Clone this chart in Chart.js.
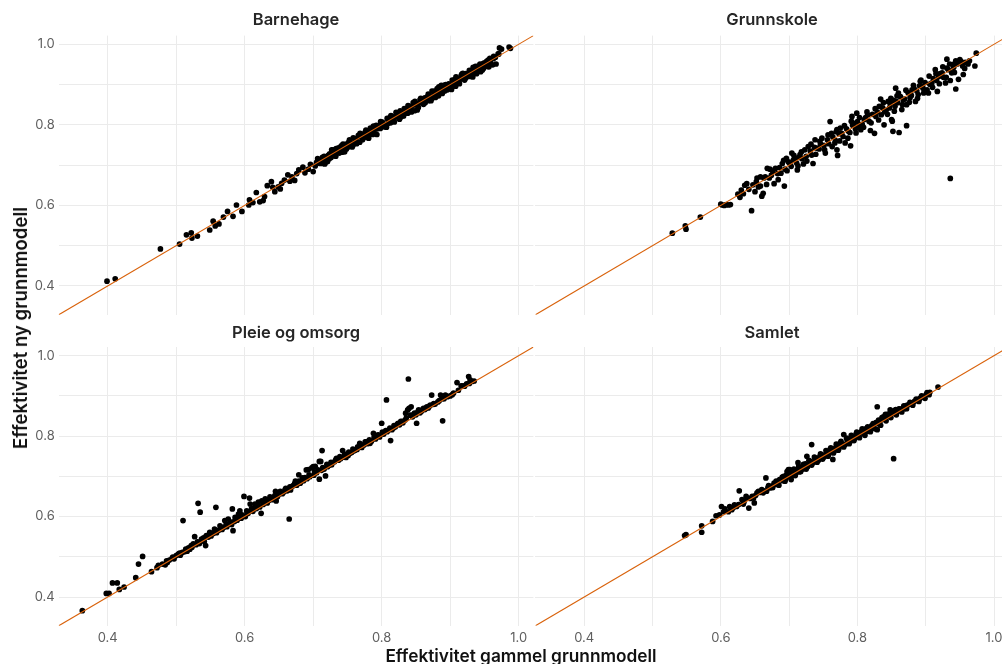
<!DOCTYPE html>
<html lang="no">
<head>
<meta charset="utf-8">
<title>Effektivitet – ny og gammel grunnmodell</title>
<script src="https://cdn.jsdelivr.net/npm/chart.js@4.4.1/dist/chart.umd.min.js"></script>
<style>
  html, body { margin: 0; padding: 0; background: #ffffff; overflow: hidden; }
  body { width: 1002px; height: 664px; position: relative; }
  canvas { position: absolute; }
  .axis-title { position: absolute; font-family: "Inter", "Noto Sans", sans-serif; font-weight: 600; color: #111; white-space: nowrap; }
  #xTitle { left: 521px; top: 655px; font-size: 17.3px; transform: translate(-50%, -50%); }
  #yTitle { left: 20px; top: 328px; font-size: 18.6px; transform: translate(-50%, -50%) rotate(-90deg); }
</style>
</head>
<body>
<canvas id="pBarnehage" width="540" height="330" style="left:0px;top:0px"></canvas>
<canvas id="pGrunnskole" width="500" height="330" style="left:520px;top:0px"></canvas>
<canvas id="pPleie" width="540" height="348" style="left:0px;top:316px"></canvas>
<canvas id="pSamlet" width="500" height="348" style="left:520px;top:316px"></canvas>
<div class="axis-title" id="xTitle">Effektivitet gammel grunnmodell</div>
<div class="axis-title" id="yTitle">Effektivitet ny grunnmodell</div>
<script>
// Axis limits (shared by all four panels) and break positions
const axisLimits = [0.3285, 1.0215];
const gridBreaks = [0.4, 0.5, 0.6, 0.7, 0.8, 0.9, 1.0];
const labelBreaks = [0.4, 0.6, 0.8, 1.0];
const panelTitles = ["Barnehage", "Grunnskole", "Pleie og omsorg", "Samlet"];

// Each point: [effektivitet gammel grunnmodell, effektivitet ny grunnmodell]
const barnehage = [
  [0.399,0.412],[0.411,0.418],[0.477,0.492],[0.505,0.504],[0.515,0.527],[0.522,0.532],[0.523,0.519],[0.531,0.524],
  [0.549,0.539],[0.554,0.561],[0.557,0.549],[0.5625,0.554],[0.569,0.571],[0.575,0.585],[0.583,0.573],[0.588,0.601],
  [0.596,0.585],[0.607,0.614],[0.606,0.601],[0.612,0.607],[0.617,0.632],[0.622,0.609],[0.627,0.612],[0.629,0.622],
  [0.633,0.649],[0.639,0.659],[0.641,0.645],[0.644,0.634],[0.649,0.646],[0.652,0.641],[0.654,0.655],[0.658,0.663],
  [0.663,0.676],[0.666,0.660],[0.669,0.671],[0.673,0.662],[0.676,0.679],[0.679,0.688],[0.685,0.695],[0.688,0.681],
  [0.693,0.690],[0.696,0.702],[0.700,0.684],[0.703,0.698],[0.705,0.707],[0.712,0.715],
  [0.708,0.711],[0.710,0.704],[0.714,0.704],[0.716,0.722],[0.719,0.717],[0.721,0.709],[0.724,0.728],[0.726,0.719],
  [0.729,0.738],[0.731,0.728],[0.733,0.722],[0.736,0.738],[0.738,0.730],[0.741,0.748],[0.743,0.741],[0.746,0.733],
  [0.748,0.752],[0.751,0.745],[0.753,0.763],[0.756,0.755],[0.758,0.749],[0.761,0.766],[0.763,0.759],[0.766,0.774],
  [0.768,0.757],[0.771,0.772],[0.773,0.767],[0.776,0.782],[0.778,0.776],[0.781,0.767],[0.783,0.787],[0.786,0.781],
  [0.788,0.797],[0.791,0.790],[0.793,0.776],[0.796,0.799],[0.798,0.791],[0.801,0.807],[0.803,0.800],[0.806,0.796],
  [0.808,0.816],[0.811,0.810],[0.813,0.805],[0.816,0.821],[0.818,0.814],[0.821,0.831],[0.823,0.821],[0.826,0.814],
  [0.828,0.831],[0.831,0.825],[0.833,0.840],[0.836,0.835],[0.838,0.829],[0.841,0.846],[0.843,0.839],[0.846,0.855],
  [0.848,0.835],[0.851,0.853],[0.853,0.847],[0.856,0.862],[0.858,0.856],[0.861,0.851],[0.863,0.867],[0.866,0.861],
  [0.868,0.876],[0.871,0.870],[0.873,0.865],[0.876,0.881],[0.878,0.875],[0.881,0.890],[0.883,0.872],[0.886,0.888],
  [0.888,0.882],[0.891,0.898],[0.893,0.891],[0.896,0.887],[0.898,0.902],[0.901,0.896],[0.903,0.911],[0.906,0.905],
  [0.908,0.896],[0.911,0.914],[0.913,0.907],[0.916,0.922],[0.918,0.915],[0.921,0.911],[0.923,0.927],[0.926,0.922],
  [0.928,0.935],[0.931,0.930],[0.933,0.919],[0.936,0.939],[0.938,0.931],[0.941,0.946],[0.944,0.942],[0.947,0.936],
  [0.950,0.954],[0.953,0.948],[0.956,0.961],[0.959,0.951],[0.962,0.949],[0.966,0.968],[0.970,0.976],[0.972,0.991],
  [0.975,0.988],[0.971,0.976],[0.986,0.993],[0.988,0.990],
  [0.712,0.712],[0.717,0.703],[0.722,0.724],[0.727,0.738],[0.732,0.727],[0.737,0.743],[0.742,0.732],[0.747,0.748],
  [0.752,0.757],[0.757,0.745],[0.762,0.760],[0.767,0.771],[0.772,0.763],[0.777,0.787],[0.782,0.779],[0.787,0.776],
  [0.792,0.799],[0.797,0.793],[0.802,0.804],[0.807,0.794],[0.812,0.818],[0.817,0.810],[0.822,0.823],[0.827,0.835],
  [0.832,0.822],[0.837,0.841],[0.842,0.836],[0.847,0.849],[0.852,0.837],[0.857,0.866],[0.862,0.858],[0.867,0.870],
  [0.872,0.860],[0.877,0.884],[0.882,0.880],[0.887,0.898],[0.892,0.884],[0.897,0.900],[0.902,0.888],[0.907,0.913],
  [0.912,0.908],[0.917,0.926],[0.922,0.915],[0.927,0.928],[0.932,0.921],[0.937,0.945],[0.942,0.937],[0.948,0.952],
  [0.954,0.945],[0.958,0.965],[0.963,0.964],[0.967,0.951],
  [0.7065,0.716],[0.7135,0.719],[0.7185,0.708],[0.7235,0.716],[0.7285,0.723],[0.7335,0.741],[0.7385,0.736],[0.7435,0.752],
  [0.7485,0.740],[0.7535,0.750],[0.7585,0.768],[0.7635,0.753],[0.7685,0.779],[0.7735,0.777],[0.7785,0.769],[0.7835,0.792],
  [0.7885,0.782],[0.7935,0.790],[0.7985,0.808],[0.8035,0.795],[0.8085,0.803],[0.8135,0.823],[0.8185,0.807],[0.8235,0.829],
  [0.8285,0.820],[0.8335,0.829],[0.8385,0.848],[0.8435,0.832],[0.8485,0.858],[0.8535,0.843],[0.8585,0.864],[0.8635,0.855],
  [0.8685,0.860],[0.8735,0.884],[0.8785,0.868],[0.8835,0.894],[0.8885,0.878],[0.8935,0.900],[0.8985,0.893],[0.9035,0.897],
  [0.9085,0.919],[0.9135,0.902],[0.9185,0.928],[0.9235,0.918],[0.9285,0.920],[0.9335,0.943],[0.9385,0.927],[0.9435,0.951],
  [0.9485,0.940],[0.9535,0.958],[0.9585,0.957],[0.9635,0.970],[0.9565,0.944],[0.9445,0.932]
];

const grunnskole = [
  [0.529,0.531],[0.548,0.549],[0.549,0.541],[0.570,0.571],[0.600,0.603],[0.602,0.601],[0.605,0.600],[0.608,0.602],
  [0.611,0.601],[0.614,0.602],[0.645,0.587],[0.630,0.638],[0.635,0.650],[0.633,0.629],[0.638,0.654],[0.650,0.634],
  [0.658,0.648],[0.660,0.623],[0.662,0.630],[0.665,0.671],[0.658,0.671],[0.668,0.692],[0.674,0.675],[0.678,0.654],
  [0.680,0.692],[0.688,0.680],[0.693,0.648],[0.690,0.704],[0.696,0.717],[0.704,0.730],[0.701,0.704],[0.708,0.717],
  [0.712,0.688],[0.716,0.726],[0.721,0.703],[0.723,0.738],[0.728,0.746],[0.735,0.704],[0.738,0.763],[0.741,0.742],
  [0.748,0.767],[0.753,0.730],[0.756,0.763],[0.760,0.808],[0.762,0.779],[0.767,0.755],[0.770,0.738],[0.771,0.724],
  [0.770,0.788],[0.775,0.792],[0.777,0.779],[0.782,0.755],[0.787,0.784],[0.790,0.748],[0.792,0.821],[0.795,0.804],
  [0.799,0.829],[0.802,0.796],[0.805,0.788],[0.810,0.813],[0.815,0.825],[0.819,0.786],[0.825,0.779],[0.827,0.821],
  [0.832,0.846],[0.834,0.864],[0.835,0.825],[0.839,0.800],[0.840,0.833],[0.845,0.858],[0.847,0.842],[0.850,0.813],
  [0.851,0.809],[0.852,0.784],[0.855,0.846],[0.857,0.858],[0.856,0.891],[0.860,0.879],[0.861,0.781],[0.865,0.838],
  [0.867,0.862],[0.872,0.798],[0.872,0.850],[0.877,0.867],[0.880,0.887],[0.885,0.858],[0.889,0.875],[0.892,0.908],
  [0.894,0.896],[0.897,0.879],[0.902,0.887],[0.904,0.879],[0.909,0.904],[0.914,0.937],[0.917,0.883],[0.919,0.920],
  [0.924,0.929],[0.929,0.904],[0.931,0.963],[0.931,0.941],[0.936,0.910],[0.936,0.667],[0.938,0.929],[0.940,0.950],
  [0.944,0.889],[0.944,0.959],[0.948,0.913],[0.952,0.957],[0.955,0.925],[0.954,0.946],[0.964,0.959],[0.972,0.946],
  [0.974,0.978],
  [0.625,0.628],[0.628,0.620],[0.641,0.640],[0.647,0.651],[0.652,0.659],[0.655,0.646],[0.663,0.668],[0.671,0.668],
  [0.676,0.685],[0.683,0.679],[0.686,0.694],[0.694,0.690],[0.699,0.708],[0.703,0.697],[0.706,0.712],[0.711,0.705],
  [0.714,0.719],[0.719,0.716],[0.725,0.722],[0.731,0.735],[0.733,0.725],[0.737,0.744],[0.744,0.740],[0.746,0.752],
  [0.751,0.749],[0.758,0.753],[0.764,0.770],[0.768,0.761],[0.773,0.778],[0.779,0.771],[0.784,0.790],[0.789,0.781],
  [0.793,0.799],[0.797,0.790],[0.800,0.808],[0.807,0.801],[0.812,0.818],[0.817,0.809],[0.822,0.826],[0.829,0.832],
  [0.837,0.842],[0.842,0.836],[0.848,0.852],[0.853,0.861],[0.859,0.855],[0.863,0.870],[0.869,0.864],[0.874,0.880],
  [0.879,0.873],[0.883,0.890],[0.887,0.884],[0.891,0.897],[0.896,0.891],[0.899,0.905],[0.906,0.901],[0.911,0.915],
  [0.916,0.910],[0.921,0.927],[0.926,0.918],[0.933,0.937],[0.941,0.943],[0.946,0.951],[0.958,0.955],[0.962,0.951],
  [0.653,0.668],[0.667,0.652],[0.672,0.690],[0.684,0.664],[0.692,0.712],[0.697,0.686],[0.707,0.724],[0.713,0.698],
  [0.718,0.733],[0.726,0.710],[0.732,0.752],[0.739,0.727],[0.745,0.759],[0.752,0.738],[0.757,0.775],[0.763,0.746],
  [0.769,0.783],[0.774,0.760],[0.781,0.798],[0.786,0.767],[0.791,0.809],[0.798,0.780],[0.803,0.818],[0.809,0.794],
  [0.814,0.832],[0.820,0.805],[0.826,0.840],[0.831,0.812],[0.838,0.855],[0.844,0.826],[0.849,0.866],[0.854,0.834],
  [0.858,0.872],[0.866,0.850],[0.871,0.886],[0.876,0.856],[0.882,0.898],[0.888,0.866],[0.893,0.911],[0.899,0.885],
  [0.905,0.921],[0.910,0.893],[0.915,0.927],[0.920,0.902],[0.925,0.944],[0.930,0.918],[0.935,0.951],[0.942,0.930],
  [0.950,0.962],[0.957,0.940]
];

const pleieOgOmsorg = [
  [0.363,0.366],[0.398,0.409],[0.402,0.409],[0.407,0.435],[0.414,0.435],[0.417,0.419],[0.424,0.425],[0.441,0.448],
  [0.445,0.482],[0.451,0.501],[0.464,0.463],[0.474,0.479],[0.472,0.473],[0.487,0.486],[0.494,0.496],[0.503,0.507],
  [0.513,0.513],[0.510,0.590],[0.520,0.519],[0.527,0.550],[0.525,0.532],[0.532,0.536],[0.537,0.544],[0.532,0.633],
  [0.535,0.611],[0.543,0.528],[0.544,0.553],[0.549,0.561],[0.556,0.569],[0.558,0.623],[0.564,0.577],[0.571,0.590],
  [0.576,0.594],[0.582,0.619],[0.583,0.565],[0.586,0.598],[0.591,0.606],[0.593,0.614],[0.599,0.650],[0.598,0.602],
  [0.603,0.614],[0.607,0.646],[0.608,0.631],[0.610,0.619],[0.615,0.631],[0.620,0.636],[0.624,0.608],[0.625,0.639],
  [0.630,0.644],[0.637,0.649],[0.645,0.663],[0.646,0.639],[0.652,0.663],[0.659,0.667],[0.665,0.594],[0.669,0.675],
  [0.674,0.688],[0.679,0.704],[0.684,0.696],[0.693,0.717],[0.698,0.721],[0.703,0.725],[0.711,0.737],[0.681,0.683],
  [0.690,0.716],[0.700,0.724],[0.709,0.737],[0.709,0.693],[0.713,0.764],[0.718,0.701],[0.724,0.728],[0.734,0.745],
  [0.743,0.764],[0.748,0.747],[0.753,0.757],[0.761,0.765],[0.768,0.782],[0.776,0.786],[0.783,0.782],[0.788,0.807],
  [0.795,0.803],[0.800,0.832],[0.807,0.890],[0.810,0.815],[0.813,0.789],[0.817,0.820],[0.824,0.832],[0.829,0.836],
  [0.834,0.840],[0.835,0.857],[0.839,0.942],[0.840,0.869],[0.838,0.865],[0.843,0.873],[0.848,0.857],[0.851,0.832],
  [0.854,0.865],[0.861,0.869],[0.866,0.873],[0.871,0.877],[0.873,0.902],[0.876,0.881],[0.886,0.902],[0.888,0.898],
  [0.889,0.838],[0.893,0.902],[0.900,0.900],[0.910,0.933],[0.919,0.925],[0.927,0.948],[0.929,0.940],[0.935,0.937],
  [0.480,0.482],[0.484,0.480],[0.490,0.492],[0.497,0.495],[0.500,0.503],[0.506,0.504],[0.509,0.511],[0.516,0.514],
  [0.518,0.522],[0.523,0.524],[0.529,0.530],[0.534,0.533],[0.539,0.542],[0.541,0.538],[0.547,0.549],[0.551,0.552],
  [0.554,0.558],[0.559,0.560],[0.562,0.566],[0.567,0.568],[0.569,0.573],[0.574,0.575],[0.578,0.582],[0.581,0.580],
  [0.585,0.588],[0.589,0.591],[0.595,0.596],[0.601,0.600],[0.605,0.608],[0.612,0.613],[0.617,0.620],[0.622,0.624],
  [0.627,0.630],[0.633,0.634],[0.635,0.640],[0.640,0.642],[0.643,0.647],[0.648,0.650],[0.650,0.656],[0.655,0.657],
  [0.657,0.661],[0.662,0.664],[0.667,0.666],[0.671,0.677],[0.676,0.678],[0.682,0.686],[0.686,0.689],[0.691,0.694],
  [0.695,0.699],[0.701,0.703],[0.705,0.709],[0.712,0.715],[0.716,0.718],[0.721,0.724],[0.727,0.729],[0.731,0.736],
  [0.737,0.740],[0.740,0.744],[0.745,0.748],[0.751,0.752],[0.756,0.759],[0.759,0.763],[0.764,0.767],[0.771,0.772],
  [0.774,0.778],[0.779,0.781],[0.785,0.787],[0.791,0.793],[0.797,0.798],[0.803,0.805],[0.808,0.811],[0.815,0.816],
  [0.820,0.823],[0.826,0.828],[0.831,0.833],[0.845,0.848],[0.850,0.853],[0.856,0.858],[0.858,0.862],[0.863,0.866],
  [0.868,0.870],[0.878,0.880],[0.882,0.885],[0.891,0.893],[0.896,0.898],[0.903,0.903],[0.916,0.925],[0.924,0.930],
  [0.932,0.936],
  [0.486,0.490],[0.495,0.499],[0.505,0.509],[0.514,0.519],[0.522,0.528],[0.531,0.537],[0.540,0.547],[0.548,0.554],
  [0.557,0.563],[0.565,0.572],[0.573,0.580],[0.579,0.587],[0.588,0.595],[0.596,0.604],[0.604,0.611],[0.613,0.621],
  [0.619,0.627],[0.628,0.636],[0.636,0.643],[0.644,0.652],[0.652,0.659],[0.660,0.670],[0.666,0.674],[0.673,0.682],
  [0.679,0.688],[0.688,0.697],[0.694,0.704],[0.702,0.711],[0.707,0.716],[0.714,0.722],[0.720,0.730],[0.726,0.735],
  [0.733,0.741],[0.739,0.749],[0.746,0.755],[0.752,0.760],[0.758,0.768],[0.765,0.773],[0.770,0.778],[0.777,0.786],
  [0.782,0.791],[0.789,0.797],[0.794,0.802],[0.801,0.810],[0.806,0.814],[0.812,0.820],[0.818,0.826],[0.823,0.830],
  [0.828,0.837],[0.836,0.845],[0.842,0.852],[0.847,0.855],[0.853,0.861],[0.860,0.866],[0.865,0.870],[0.870,0.875],
  [0.876,0.879],[0.884,0.888],[0.889,0.893],[0.895,0.899],[0.905,0.907],[0.912,0.914],[0.921,0.924],[0.928,0.931]
];

const samlet = [
  [0.549,0.555],[0.547,0.553],[0.572,0.577],[0.572,0.561],[0.588,0.588],[0.593,0.602],[0.601,0.625],[0.606,0.619],
  [0.613,0.625],[0.620,0.629],[0.627,0.664],[0.631,0.642],[0.637,0.650],[0.641,0.621],[0.646,0.650],[0.649,0.634],
  [0.653,0.659],[0.660,0.667],[0.666,0.696],[0.667,0.663],[0.672,0.671],[0.680,0.680],[0.686,0.692],[0.692,0.700],
  [0.694,0.688],[0.699,0.717],[0.698,0.709],[0.701,0.717],[0.703,0.692],[0.708,0.713],[0.713,0.734],[0.716,0.717],
  [0.723,0.725],[0.726,0.750],[0.730,0.730],[0.733,0.779],[0.738,0.742],[0.745,0.750],[0.753,0.754],[0.764,0.742],
  [0.760,0.767],[0.768,0.771],[0.775,0.783],[0.780,0.804],[0.785,0.788],[0.792,0.792],[0.800,0.804],[0.807,0.818],
  [0.815,0.812],[0.820,0.821],[0.827,0.833],[0.829,0.873],[0.829,0.816],[0.836,0.846],[0.841,0.854],[0.848,0.865],
  [0.853,0.744],[0.856,0.866],[0.864,0.865],[0.871,0.875],[0.876,0.879],[0.884,0.887],[0.891,0.893],[0.898,0.899],
  [0.906,0.909],[0.918,0.922],
  [0.611,0.612],[0.616,0.617],[0.623,0.625],[0.634,0.637],[0.643,0.645],[0.651,0.653],[0.657,0.660],[0.663,0.664],
  [0.669,0.672],[0.675,0.676],[0.678,0.683],[0.683,0.684],[0.689,0.693],[0.691,0.689],[0.696,0.703],[0.700,0.699],
  [0.702,0.708],[0.705,0.704],[0.707,0.718],[0.710,0.709],[0.712,0.716],[0.715,0.711],[0.718,0.723],[0.720,0.718],
  [0.724,0.731],[0.727,0.724],[0.731,0.737],[0.735,0.734],[0.740,0.745],[0.743,0.740],[0.748,0.753],[0.751,0.748],
  [0.756,0.760],[0.758,0.755],[0.762,0.766],[0.766,0.763],[0.770,0.775],[0.773,0.770],[0.777,0.781],[0.782,0.779],
  [0.786,0.792],[0.789,0.786],[0.793,0.799],[0.796,0.794],[0.798,0.805],[0.802,0.799],[0.805,0.810],[0.809,0.806],
  [0.812,0.818],[0.817,0.815],[0.821,0.826],[0.824,0.820],[0.828,0.834],[0.832,0.830],[0.835,0.840],[0.839,0.843],
  [0.843,0.849],[0.846,0.852],[0.850,0.856],[0.854,0.858],[0.859,0.862],[0.862,0.867],[0.867,0.870],[0.869,0.868],
  [0.873,0.877],[0.879,0.882],[0.882,0.884],[0.887,0.890],[0.893,0.896],[0.896,0.897],[0.901,0.904],[0.903,0.905],
  [0.681,0.688],[0.685,0.678],[0.690,0.698],[0.695,0.694],[0.697,0.712],[0.703,0.700],[0.706,0.715],[0.709,0.702],
  [0.714,0.724],[0.717,0.712],[0.721,0.730],[0.725,0.718],[0.729,0.740],[0.733,0.728],[0.737,0.748],[0.741,0.735],
  [0.746,0.756],[0.749,0.743],[0.754,0.764],[0.757,0.750],[0.761,0.771],[0.765,0.758],[0.769,0.780],[0.772,0.765],
  [0.776,0.787],[0.780,0.773],[0.784,0.795],[0.788,0.781],[0.791,0.802],[0.795,0.789],[0.799,0.810],[0.803,0.796],
  [0.807,0.814],[0.811,0.802],[0.815,0.823],[0.819,0.811],[0.823,0.831],[0.826,0.818],[0.831,0.840],[0.834,0.827],
  [0.838,0.848],[0.842,0.838],[0.845,0.855],[0.849,0.846],[0.853,0.862],[0.857,0.853],[0.861,0.868],[0.865,0.860],
  [0.868,0.875],[0.872,0.868],[0.877,0.884],[0.881,0.877],[0.886,0.892],[0.890,0.886],[0.894,0.900],[0.899,0.894],
  [0.902,0.908],[0.905,0.903],
  [0.598,0.604],[0.604,0.612],[0.618,0.622],[0.626,0.630],[0.633,0.631],[0.639,0.646],[0.648,0.646],[0.655,0.663],
  [0.662,0.659],[0.670,0.677],[0.676,0.672]
];

const FONT = '"Inter", "Noto Sans", sans-serif';
const gridColor = '#ebebeb';
const tickColor = '#5e5e5e';
const diagonalColor = '#d9620b';

function tickLabel(value) {
  return labelBreaks.includes(value) ? value.toFixed(1) : '';
}

function drawPanel(canvasId, title, points, box) {
  return new Chart(document.getElementById(canvasId), {
    type: 'scatter',
    data: {
      datasets: [
        {
          type: 'line',
          data: axisLimits.map(v => ({ x: v, y: v })),
          borderColor: diagonalColor,
          borderWidth: 1.1,
          pointRadius: 0,
          showLine: true,
          fill: false,
          order: 0
        },
        {
          data: points.map(([x, y]) => ({ x, y })),
          backgroundColor: '#000000',
          borderWidth: 0,
          pointRadius: 2.85,
          order: 1
        }
      ]
    },
    options: {
      responsive: false,
      animation: false,
      events: [],
      layout: { padding: { left: 0, top: 0, bottom: 0, right: box.padRight } },
      plugins: {
        legend: { display: false },
        tooltip: { enabled: false },
        title: {
          display: true,
          text: title,
          fullSize: false,
          color: '#262626',
          font: { family: FONT, size: 16.5, weight: '600', lineHeight: 1.2 },
          padding: { top: box.titleTop, bottom: box.titleBottom }
        }
      },
      scales: {
        x: {
          type: 'linear',
          min: axisLimits[0],
          max: axisLimits[1],
          afterBuildTicks: s => { s.ticks = gridBreaks.map(v => ({ value: v })); },
          afterFit: s => { s.height = box.xHeight; },
          grid: { color: gridColor, lineWidth: 1, drawTicks: false },
          border: { display: false },
          ticks: {
            display: box.xLabels,
            padding: 4,
            maxRotation: 0,
            autoSkip: false,
            color: tickColor,
            font: { family: FONT, size: 13 },
            callback: tickLabel
          }
        },
        y: {
          type: 'linear',
          min: axisLimits[0],
          max: axisLimits[1],
          afterBuildTicks: s => { s.ticks = gridBreaks.map(v => ({ value: v })); },
          afterFit: s => { s.width = box.yWidth; },
          grid: { color: gridColor, lineWidth: 1, drawTicks: false },
          border: { display: false },
          ticks: {
            display: box.yLabels,
            padding: 4,
            autoSkip: false,
            color: tickColor,
            font: { family: FONT, size: 13 },
            callback: tickLabel
          }
        }
      }
    }
  });
}

// Panel geometry: canvas offsets are set in the markup above
const topRow = { titleTop: 9.9, titleBottom: 5.9, xHeight: 15.2 };
const bottomRow = { titleTop: 7.1, titleBottom: 4.1, xHeight: 38.2 };

drawPanel('pBarnehage', panelTitles[0], barnehage,
  Object.assign({}, topRow, { yWidth: 58.7, padRight: 6.6, xLabels: false, yLabels: true }));
drawPanel('pGrunnskole', panelTitles[1], grunnskole,
  Object.assign({}, topRow, { yWidth: 15.4, padRight: 11.3, xLabels: false, yLabels: false }));
drawPanel('pPleie', panelTitles[2], pleieOgOmsorg,
  Object.assign({}, bottomRow, { yWidth: 58.7, padRight: 6.6, xLabels: true, yLabels: true }));
drawPanel('pSamlet', panelTitles[3], samlet,
  Object.assign({}, bottomRow, { yWidth: 15.4, padRight: 11.3, xLabels: true, yLabels: false }));
</script>
</body>
</html>
